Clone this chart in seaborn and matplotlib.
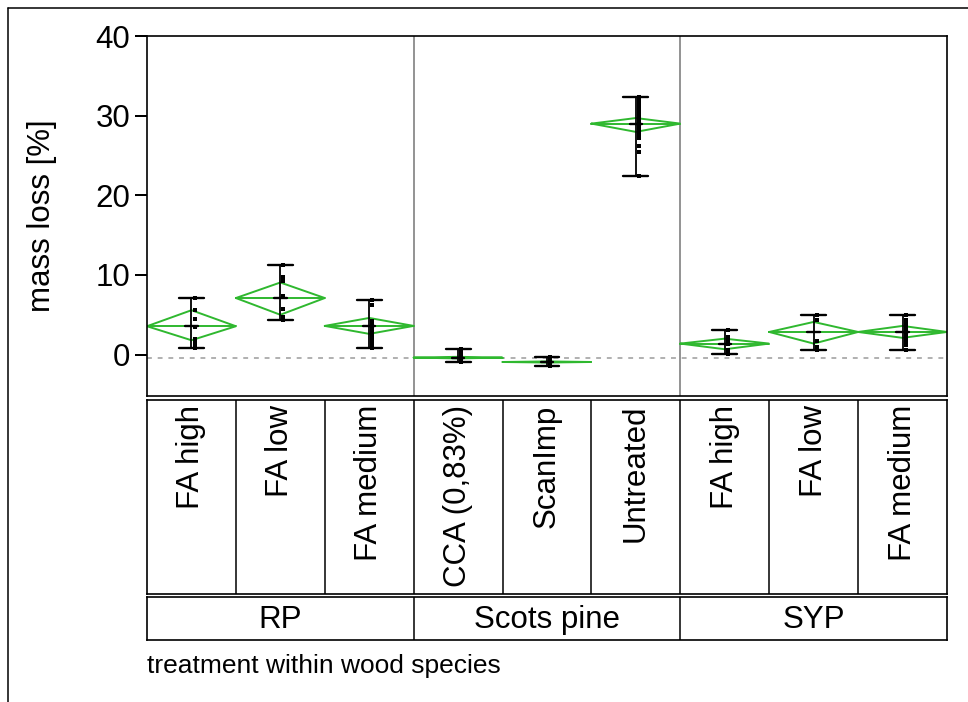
import numpy as np
import pandas as pd
import matplotlib
matplotlib.use("Agg")
import matplotlib.pyplot as plt
import seaborn as sns
from matplotlib.lines import Line2D

# ---------------- data ----------------
species = ["RP", "RP", "RP", "Scots pine", "Scots pine", "Scots pine", "SYP", "SYP", "SYP"]
treatments = ["FA high", "FA low", "FA medium", "CCA (0,83%)", "ScanImp", "Untreated",
              "FA high", "FA low", "FA medium"]
group_names = ["RP", "Scots pine", "SYP"]

means = [3.56, 7.1, 3.6, -0.38, -0.93, 29.0, 1.38, 2.84, 2.84]
ci_low = [1.8, 5.0, 2.6, -0.48, -1.0, 27.96, 0.67, 1.38, 2.1]
ci_high = [5.57, 9.05, 4.6, -0.28, -0.86, 29.7, 2.0, 4.1, 3.6]

pts_rp_high = [7.1, 5.6, 4.5, 3.5, 2.0, 1.6, 1.2, 0.83]
pts_rp_low = [11.2, 9.8, 9.3, 7.4, 5.7, 4.7, 4.35]
pts_rp_medium = [6.9, 6.2, 4.2, 3.7, 3.2, 2.7, 2.2, 1.7, 1.2, 0.83]
pts_sp_cca = [0.75, 0.4, 0.1, -0.2, -0.5, -0.93]
pts_sp_scanimp = [-0.3, -0.6, -0.9, -1.2, -1.43]
pts_sp_untreated = [32.4, 32.0, 31.6, 31.2, 30.8, 30.4, 30.0, 29.6, 29.2, 28.8,
                    28.4, 28.0, 27.6, 27.2, 26.2, 25.4, 22.4]
pts_syp_high = [3.14, 2.2, 1.8, 1.3, 0.6, 0.13]
pts_syp_low = [4.94, 4.4, 1.7, 1.0, 0.63]
pts_syp_medium = [4.94, 4.3, 3.8, 3.3, 2.8, 2.4, 2.0, 1.6, 1.2, 0.63]

all_points = [pts_rp_high, pts_rp_low, pts_rp_medium,
              pts_sp_cca, pts_sp_scanimp, pts_sp_untreated,
              pts_syp_high, pts_syp_low, pts_syp_medium]

ref_line = -0.4
y_ticks = [0, 10, 20, 30, 40]

# ---------------- style ----------------
sns.set_style("ticks")
plt.rcParams["font.family"] = ["Liberation Sans", "DejaVu Sans"]
plt.rcParams.update({
    "text.color": "black",
    "axes.labelcolor": "black",
    "xtick.color": "black",
    "ytick.color": "black",
    "ytick.left": True,
    "ytick.direction": "out",
    "ytick.major.size": 9,
    "ytick.major.width": 1.4,
})

W, H = 968, 702
fig = plt.figure(figsize=(W / 100, H / 100), dpi=100)

def fx(px):
    return px / W

def fy(py):
    return 1 - py / H

# main plot axes (x 147-947, y 36-396)
ax = fig.add_axes([fx(147), fy(396), fx(947) - fx(147), fy(36) - fy(396)])
n = len(treatments)
rows = []
for i, pts in enumerate(all_points):
    for v in pts:
        rows.append({"pos": i + 0.035, "mass loss": v, "treatment": treatments[i],
                     "species": species[i]})
df = pd.DataFrame(rows)

green = "#2fb82f"
for i in range(n):
    m, lo, hi = means[i], ci_low[i], ci_high[i]
    # mean diamond
    ax.plot([i - 0.5, i, i + 0.5, i, i - 0.5], [m, hi, m, lo, m],
            color=green, lw=1.4, zorder=2, solid_joinstyle="miter")
    ax.plot([i - 0.5, i + 0.5], [m, m], color=green, lw=1.4, zorder=2)
    # range bar
    pmin, pmax = min(all_points[i]), max(all_points[i])
    ax.plot([i, i], [pmin, pmax], color="black", lw=1.3, zorder=3)
    ax.plot([i - 0.14, i + 0.14], [pmax, pmax], color="black", lw=1.7, zorder=3)
    ax.plot([i - 0.14, i + 0.14], [pmin, pmin], color="black", lw=1.7, zorder=3)
    ax.plot([i - 0.07, i + 0.07], [m, m], color="black", lw=1.7, zorder=3)

sns.scatterplot(data=df, x="pos", y="mass loss", marker="s", color="black",
                s=11, linewidth=0, ax=ax, zorder=4, legend=False)

ax.axhline(ref_line, color="#b0b0b0", lw=1.4, ls=(0, (2.5, 3)), zorder=1)
for b in [2.5, 5.5]:
    ax.axvline(b, color="#8a8a8a", lw=1.3, zorder=1)

ax.set_xlim(-0.5, n - 0.5)
ax.set_ylim(-5.2, 40)
ax.set_xticks([])
ax.set_xlabel("")
ax.set_yticks(y_ticks)
ax.set_yticklabels([str(t) for t in y_ticks])
ax.yaxis.set_ticks_position("left")
ax.tick_params(axis="y", which="major", direction="out", length=9, width=1.4,
               pad=3, labelsize=22.5, left=True, labelleft=True,
               color="black", labelcolor="black")
# explicit tick marks (outside the axes, left of spine)
ytr = ax.get_yaxis_transform()
tick_len = 12.5 / 800.0
for t in y_ticks:
    ax.plot([-tick_len, 0], [t, t], color="black", lw=1.4, transform=ytr,
            clip_on=False, zorder=5, solid_capstyle="butt")
for s in ax.spines.values():
    s.set_visible(True)
    s.set_color("black")
    s.set_linewidth(1.2)
ax.set_ylabel("mass loss [%]", fontsize=22.5, va="center", color="black")
ax.yaxis.set_label_coords((42 - 147) / 800, 0.5)

# treatment label panel (y 400-594)
ax2 = fig.add_axes([fx(147), fy(594), fx(947) - fx(147), fy(400) - fy(594)])
ax2.set_xlim(-0.5, n - 0.5)
ax2.set_ylim(0, 1)
ax2.set_xticks([])
ax2.set_yticks([])
ax2.tick_params(left=False, bottom=False)
for s in ax2.spines.values():
    s.set_visible(True)
    s.set_color("black")
    s.set_linewidth(1.2)
for b in np.arange(0.5, n - 0.5, 1.0):
    ax2.axvline(b, color="black", lw=1.1)
for i, t in enumerate(treatments):
    ax2.text(i, 0.975, t, rotation=90, ha="center", va="top", fontsize=22.5,
             color="black")

# species panel (y 597-640)
ax3 = fig.add_axes([fx(147), fy(640), fx(947) - fx(147), fy(597) - fy(640)])
ax3.set_xlim(-0.5, n - 0.5)
ax3.set_ylim(0, 1)
ax3.set_xticks([])
ax3.set_yticks([])
ax3.tick_params(left=False, bottom=False)
for s in ax3.spines.values():
    s.set_visible(True)
    s.set_color("black")
    s.set_linewidth(1.2)
for b in [2.5, 5.5]:
    ax3.axvline(b, color="black", lw=1.1)
for g, name in enumerate(group_names):
    ax3.text(3 * g + 1, 0.47, name, ha="center", va="center", fontsize=22.5,
             color="black")

# footer
fig.text(fx(147), fy(673), "treatment within wood species", fontsize=19,
         ha="left", va="baseline", color="black")

# outer frame (top and left)
fig.add_artist(Line2D([fx(8), 1.0], [fy(8), fy(8)], color="black", lw=1.1))
fig.add_artist(Line2D([fx(8), fx(8)], [fy(8), 0.0], color="black", lw=1.1))

fig.savefig("out.png", dpi=100)
